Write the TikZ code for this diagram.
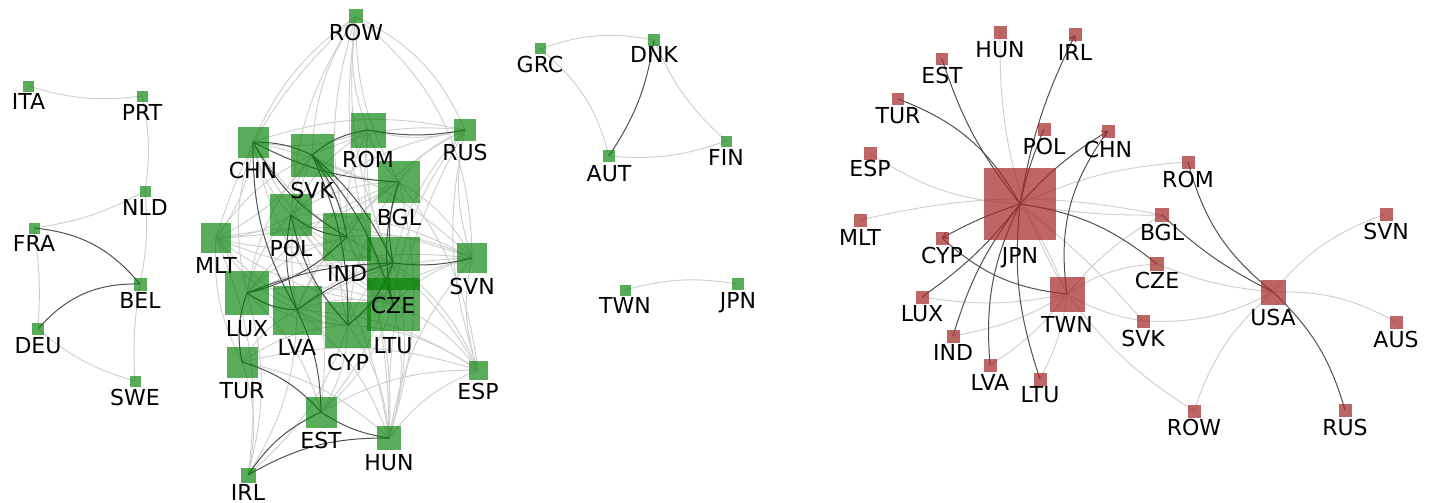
\documentclass[tikz,border=0pt]{standalone}
\usepackage{fontspec}
\setmainfont{DejaVu Sans}
\usetikzlibrary{arrows.meta}
\pgfdeclarelayer{bg}
\pgfdeclarelayer{fg}
\pgfsetlayers{bg,main,fg}
\definecolor{gfill}{RGB}{0,128,0}
\definecolor{rfill}{RGB}{165,42,42}
\definecolor{lightedge}{RGB}{205,205,205}
\definecolor{darkedge}{RGB}{80,80,80}
\tikzset{
  gsq/.style={rectangle, inner sep=0pt, outer sep=0pt, fill=gfill, fill opacity=0.65, draw=none},
  rsq/.style={rectangle, inner sep=0pt, outer sep=0pt, fill=rfill, fill opacity=0.72, draw=none},
  lbl/.style={inner sep=0pt, text height=16pt, text depth=0pt, font=\fontsize{22}{26}\selectfont, text=black},
  le/.style={draw=lightedge, line width=0.9pt},
  de/.style={draw=darkedge, line width=1pt},
  tip/.style={-{Straight Barb[length=5pt,width=7pt]}}
}
\newcommand{\GN}[6]{\node[gsq, minimum size=#4pt] (#1) at (#2,#3) {};
  \begin{pgfonlayer}{fg}\node[lbl] (#1-l) at (#2,#5) {#6};\end{pgfonlayer}}
\newcommand{\RN}[6]{\node[rsq, minimum size=#4pt] (#1) at (#2,#3) {};
  \begin{pgfonlayer}{fg}\node[lbl] (#1-l) at (#2,#5) {#6};\end{pgfonlayer}}
\newcommand{\LE}[3][bend right=15]{\draw[le] (#2.center) to[#1] (#3.center);}
\newcommand{\DE}[3][bend right=15]{\draw[de] (#2.center) to[#1] (#3.center);}
\begin{document}
\begin{tikzpicture}[x=1pt,y=-1pt]
\useasboundingbox (0,0) rectangle (1429,503);
% ---------------- group A
\GN{aITA}{28.5}{86}{11}{101}{ITA}
\GN{aPRT}{142}{96}{11}{112}{PRT}
\GN{aNLD}{145}{191}{11}{207}{NLD}
\GN{aFRA}{34}{228}{11}{243}{FRA}
\GN{aBEL}{140}{284}{13}{300}{BEL}
\GN{aDEU}{38}{329}{12}{345}{DEU}
\GN{aSWE}{135}{381}{11}{397}{SWE}
% ---------------- group B
\GN{bROW}{356}{16.5}{14}{33}{ROW}
\GN{bCHN}{253}{142}{31}{170}{CHN}
\GN{bSVK}{312}{155}{43}{190}{SVK}
\GN{bROM}{368}{130}{35}{159}{ROM}
\GN{bRUS}{465}{130}{22}{152}{RUS}
\GN{bBGL}{399}{182}{42}{217}{BGL}
\GN{bPOL}{291}{215}{42}{248}{POL}
\GN{bMLT}{216}{238}{30}{265}{MLT}
\GN{bIND}{347}{237}{48}{273}{IND}
\GN{bCZE}{393}{263}{53}{305}{CZE}
\GN{bLTU}{393}{304}{53}{345}{LTU}
\GN{bSVN}{472}{258}{30}{286}{SVN}
\GN{bLUX}{247}{293}{44}{328}{LUX}
\GN{bLVA}{297}{310}{49}{347}{LVA}
\GN{bCYP}{348}{325}{46}{362}{CYP}
\GN{bTUR}{242}{362}{31}{390}{TUR}
\GN{bESP}{478}{370}{19}{391}{ESP}
\GN{bEST}{321}{412}{31}{440}{EST}
\GN{bHUN}{389}{438}{24}{462}{HUN}
\GN{bIRL}{248}{475}{15}{492}{IRL}
% ---------------- group C
\GN{cGRC}{540}{49}{11}{65}{GRC}
\GN{cDNK}{654}{40}{12}{55}{DNK}
\GN{cAUT}{609}{156}{12}{173}{AUT}
\GN{cFIN}{726}{141}{11}{157}{FIN}
\GN{cTWN}{625}{290}{11}{305}{TWN}
\GN{cJPN}{738}{284}{12}{300}{JPN}
% ---------------- group D
\RN{dHUN}{1000}{33}{13}{49}{HUN}
\RN{dIRL}{1075}{35}{13}{52}{IRL}
\RN{dEST}{942}{59}{12}{75}{EST}
\RN{dTUR}{898}{99}{12}{115}{TUR}
\RN{dESP}{870}{153}{13}{168}{ESP}
\RN{dPOL}{1044}{129}{13}{146}{POL}
\RN{dCHN}{1108}{131}{13}{149}{CHN}
\RN{dJPN}{1020}{204}{72}{255}{JPN}
\RN{dMLT}{860}{220}{13}{237}{MLT}
\RN{dCYP}{942}{238}{13}{255}{CYP}
\RN{dLUX}{922}{297}{13}{313}{LUX}
\RN{dTWN}{1067}{294}{35}{324}{TWN}
\RN{dIND}{953}{336}{13}{352}{IND}
\RN{dLVA}{990}{365}{13}{382}{LVA}
\RN{dLTU}{1040}{379}{13}{394}{LTU}
\RN{dCZE}{1157}{264}{14}{280}{CZE}
\RN{dSVK}{1143}{321}{13}{338}{SVK}
\RN{dROM}{1188}{162}{13}{179}{ROM}
\RN{dBGL}{1162}{215}{14}{232}{BGL}
\RN{dSVN}{1386}{214}{13}{231}{SVN}
\RN{dUSA}{1273}{292}{25}{317}{USA}
\RN{dAUS}{1396}{322}{13}{339}{AUS}
\RN{dROW}{1194}{411}{13}{427}{ROW}
\RN{dRUS}{1345}{410}{13}{427}{RUS}
\begin{pgfonlayer}{bg}
% ---- A edges
\LE[bend right=12]{aITA}{aPRT}
\LE[bend left=10]{aPRT}{aNLD}
\LE[bend left=10]{aNLD}{aFRA}
\LE[bend left=8]{aNLD}{aBEL}
\DE[bend left=22]{aFRA}{aBEL}
\DE[bend left=25]{aDEU}{aBEL}
\LE[bend left=6]{aFRA}{aDEU}
\LE[bend right=12]{aDEU}{aSWE}
\LE[bend right=6]{aBEL}{aSWE}
% ---- C edges
\LE[bend left=15]{cGRC}{cDNK}
\LE[bend left=18]{cGRC}{cAUT}
\DE[bend left=12]{cDNK}{cAUT}
\LE[bend right=12]{cDNK}{cFIN}
\LE[bend right=12]{cAUT}{cFIN}
\LE[bend left=12]{cTWN}{cJPN}
% ---- B light edges
\foreach \t in {bCHN,bSVK,bROM,bBGL,bMLT,bIND,bCZE,bPOL,bLTU}{\LE{bROW}{\t}}
\LE[bend left=20]{bROW}{bRUS}
\LE[bend left=25]{bROW}{bSVN}
\foreach \t in {bSVK,bBGL,bCZE,bLTU,bESP,bSVN,bPOL,bIND,bHUN,bCHN}{\LE{bRUS}{\t}}
\LE[bend right=15]{bROM}{bRUS}
\foreach \t in {bESP,bLTU,bIND,bLVA,bLUX,bHUN,bBGL,bCHN,bPOL,bMLT,bCYP}{\LE{bSVN}{\t}}
\foreach \t in {bLTU,bCZE,bTUR,bEST,bHUN,bLVA,bBGL,bIND,bCYP}{\LE{bESP}{\t}}
\foreach \t in {bCYP,bLVA,bLTU,bIND,bPOL,bTUR,bSVK,bCZE,bBGL}{\LE{bHUN}{\t}}
\foreach \t in {bLUX,bLVA,bTUR,bMLT,bCYP}{\LE{bIRL}{\t}}
\foreach \t in {bCYP,bLTU,bCZE,bLUX,bPOL}{\LE{bEST}{\t}}
\foreach \t in {bCHN,bPOL,bIND,bCZE,bLTU,bTUR,bLVA,bSVK,bBGL,bCYP}{\LE{bMLT}{\t}}
\foreach \t in {bPOL,bROM,bLUX,bCZE,bLTU,bCYP}{\LE{bCHN}{\t}}
\foreach \t in {bBGL,bPOL,bLUX,bLVA,bMLT}{\LE{bSVK}{\t}}
\foreach \t in {bBGL,bIND,bCZE,bLTU,bPOL}{\LE{bROM}{\t}}
\foreach \t in {bIND,bPOL,bLUX,bLVA,bCYP}{\LE{bBGL}{\t}}
\foreach \t in {bLUX,bCZE,bLTU}{\LE{bPOL}{\t}}
\foreach \t in {bLUX,bLVA,bCYP,bLTU}{\LE{bIND}{\t}}
\foreach \t in {bLVA,bCYP,bLTU}{\LE{bCZE}{\t}}
\foreach \t in {bLUX,bLVA,bCYP}{\LE{bLTU}{\t}}
\foreach \t in {bLVA,bCYP,bTUR}{\LE{bLUX}{\t}}
\foreach \t in {bCYP,bTUR}{\LE{bLVA}{\t}}
\LE{bCYP}{bTUR}
% ---- B dark edges
\DE[bend right=10]{bROM}{bRUS}
\DE[bend right=12]{bCHN}{bBGL}
\DE[bend left=12]{bCHN}{bSVK}
\DE[bend left=15]{bSVK}{bROM}
\foreach \t in {bIND,bCZE,bLTU,bCYP}{\DE[bend left=12]{bSVK}{\t}}
\DE{bCHN}{bIND}
\DE{bCHN}{bLVA}
\foreach \t in {bIND,bLVA,bCYP}{\DE{bPOL}{\t}}
\DE{bBGL}{bCZE}
\DE{bBGL}{bLTU}
\DE[bend left=10]{bLUX}{bCZE}
\DE{bLUX}{bLVA}
\DE{bLUX}{bIND}
\DE[bend left=10]{bLVA}{bCZE}
\DE[bend left=12]{bLVA}{bEST}
\DE[bend left=10]{bSVN}{bCZE}
\DE[bend left=15]{bTUR}{bLUX}
\DE[bend left=15]{bTUR}{bEST}
\DE[bend right=12]{bEST}{bHUN}
\DE[bend left=15]{bIRL}{bEST}
\DE[bend left=15]{bIRL}{bHUN}
\DE{bCYP}{bCZE}
% ---- D light edges
\LE[bend left=15]{dUSA}{dSVN}
\LE[bend left=15]{dUSA}{dAUS}
\LE[bend right=15]{dUSA}{dROW}
\LE[bend right=8]{dCZE}{dUSA}
\LE[bend right=15]{dSVK}{dUSA}
\LE[bend right=10]{dTWN}{dSVK}
\LE[bend left=15]{dTWN}{dCZE}
\LE[bend left=10]{dTWN}{dBGL}
\LE[bend right=10]{dTWN}{dROW}
\LE[bend left=10]{dTWN}{dLUX}
\LE[bend left=10]{dTWN}{dIND}
\LE[bend left=10]{dTWN}{dLVA}
\LE[bend left=10]{dTWN}{dLTU}
\LE[bend right=15]{dHUN}{dTWN}
\LE[bend right=15]{dESP}{dJPN}
\LE[bend left=12]{dMLT}{dBGL}
\LE[bend left=10]{dJPN}{dROM}
\LE[bend right=5]{dJPN}{dBGL}
\LE[bend left=5]{dJPN}{dSVK}
\LE[bend left=5]{dJPN}{dTWN}
% ---- D dark edges
\DE[bend right=20]{dJPN}{dTUR}
\DE[bend left=10]{dJPN}{dEST}
\draw[de,tip] (dJPN.center) to[bend left=8] (dIRL.center);
\DE[bend left=5]{dJPN}{dPOL}
\draw[de,tip] (dJPN.center) to[bend left=8] (dCHN.center);
\draw[de,tip] (dJPN.center) to[bend right=5] (dCYP.center);
\DE[bend left=8]{dJPN}{dLUX}
\DE[bend right=10]{dJPN}{dIND}
\DE[bend right=15]{dJPN}{dLVA}
\DE[bend right=12]{dJPN}{dLTU}
\DE[bend left=15]{dJPN}{dCZE}
\DE[bend right=22]{dCHN}{dTWN}
\DE[bend right=18]{dCYP}{dTWN}
\DE[bend right=18]{dROM}{dUSA}
\DE[bend right=8]{dBGL}{dUSA}
\DE[bend left=15]{dUSA}{dRUS}
\end{pgfonlayer}
\end{tikzpicture}
\end{document}
